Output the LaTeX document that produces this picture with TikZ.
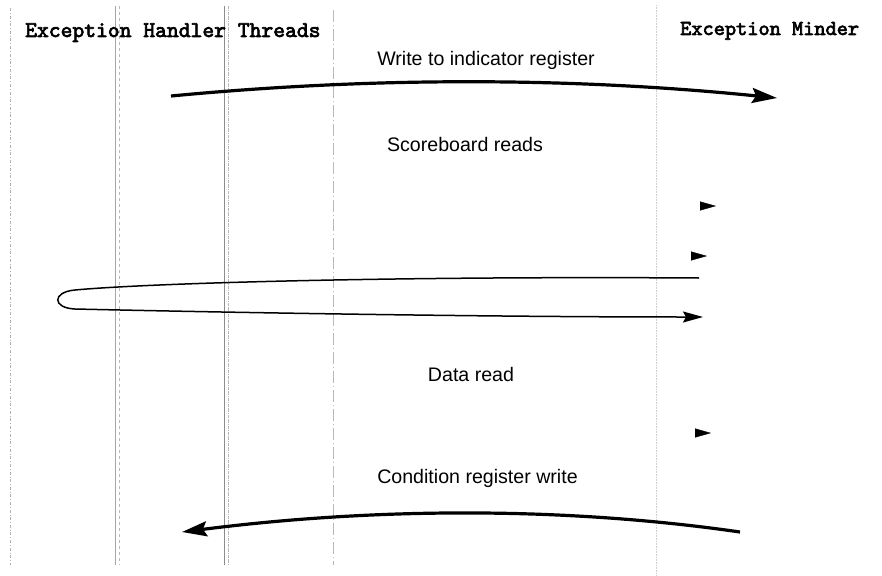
\documentclass[tikz,border=0pt]{standalone}
\usepackage{fontspec}
\setsansfont{Liberation Sans}
\newfontfamily\actorfont{lmmono10-regular.otf}[FakeBold=3]
\usetikzlibrary{arrows.meta, positioning}

\begin{document}
\begin{tikzpicture}[
  x=1pt, y=-1pt,
  actor/.style={font=\actorfont\fontsize{22.5}{26}\selectfont, inner sep=0pt},
  lbl/.style={font=\sffamily\fontsize{19.6}{23}\selectfont, inner sep=0pt},
  life/.style={gray!70, line width=0.6pt},
  msg/.style={line width=3.2pt, -{Stealth[length=25pt, width=15pt, inset=4pt]}},
  loopmsg/.style={line width=1.5pt, -{Stealth[length=20pt, width=11pt, inset=3pt]}},
  stub/.style={line width=0.4pt, -{Triangle[length=16pt, width=9pt]}}
]
\useasboundingbox (0,0) rectangle (882,575);

% ----- Lignes de vie -----
\coordinate (l1t) at (10,8);   \coordinate (l1b) at (10,565);
\coordinate (l2t) at (115,6);  \coordinate (l2b) at (115,565);
\coordinate (l3t) at (119,6);  \coordinate (l3b) at (119,565);
\coordinate (l4t) at (224,6);  \coordinate (l4b) at (224,565);
\coordinate (l5t) at (228,6);  \coordinate (l5b) at (228,565);
\coordinate (l6t) at (333,10); \coordinate (l6b) at (333,565);
\coordinate (l7t) at (656,5);  \coordinate (l7b) at (656,575);

\draw[life, gray!60, dash dot] (l1t) -- (l1b);
\draw[life] (l2t) -- (l2b);
\draw[life, gray!55, dashed] (l3t) -- (l3b);
\draw[life, gray!90] (l4t) -- (l4b);
\draw[life, gray!55, densely dash dot] (l5t) -- (l5b);
\draw[life, gray!55, dash pattern=on 12pt off 3pt on 1pt off 3pt] (l6t) -- (l6b);
\draw[life, gray!40, densely dotted] (l7t) -- (l7b);

% ----- Acteurs -----
\node[actor, anchor=base west] (handlers) at (25,37) {Exception Handler Threads};
\node[actor, anchor=base west, font=\actorfont\fontsize{21.3}{25}\selectfont] (minder) at (680,35) {Exception Minder};

% ----- Messages -----
\node[lbl, anchor=base] (wlabel) at (486,66) {Write to indicator register};
\coordinate (wstart) at (171,96);
\coordinate (wend)   at (777,98);
\draw[msg] (wstart) .. controls (360,78) and (560,76) .. (wend);

\node[lbl, anchor=base] (sblabel) at (465,151) {Scoreboard reads};
\coordinate (sb1) at (700,206); \coordinate (sb1tip) at (716,206);
\coordinate (sb2) at (691,256); \coordinate (sb2tip) at (707,256);
\draw[stub] (sb1) -- (sb1tip);
\draw[stub] (sb2) -- (sb2tip);

% boucle aller-retour
\coordinate (lpstart) at (699,278);
\coordinate (lptop)   at (75,290);
\coordinate (lpbot)   at (75,309);
\coordinate (lpend)   at (703,317);
\draw[loopmsg] (lpstart) .. controls (400,276) and (150,283) .. (lptop)
  .. controls (52,292) and (52,308) .. (lpbot)
  .. controls (250,313) and (500,317) .. (lpend);

\node[lbl, anchor=base] (dlabel) at (471,381) {Data read};
\coordinate (dr) at (695,433); \coordinate (drtip) at (711,433);
\draw[stub] (dr) -- (drtip);

\node[lbl, anchor=base] (clabel) at (477.5,483) {Condition register write};
\coordinate (cstart) at (740,532);
\coordinate (cend)   at (182,532);
\draw[msg] (cstart) .. controls (560,506) and (370,508) .. (cend);

\end{tikzpicture}
\end{document}
